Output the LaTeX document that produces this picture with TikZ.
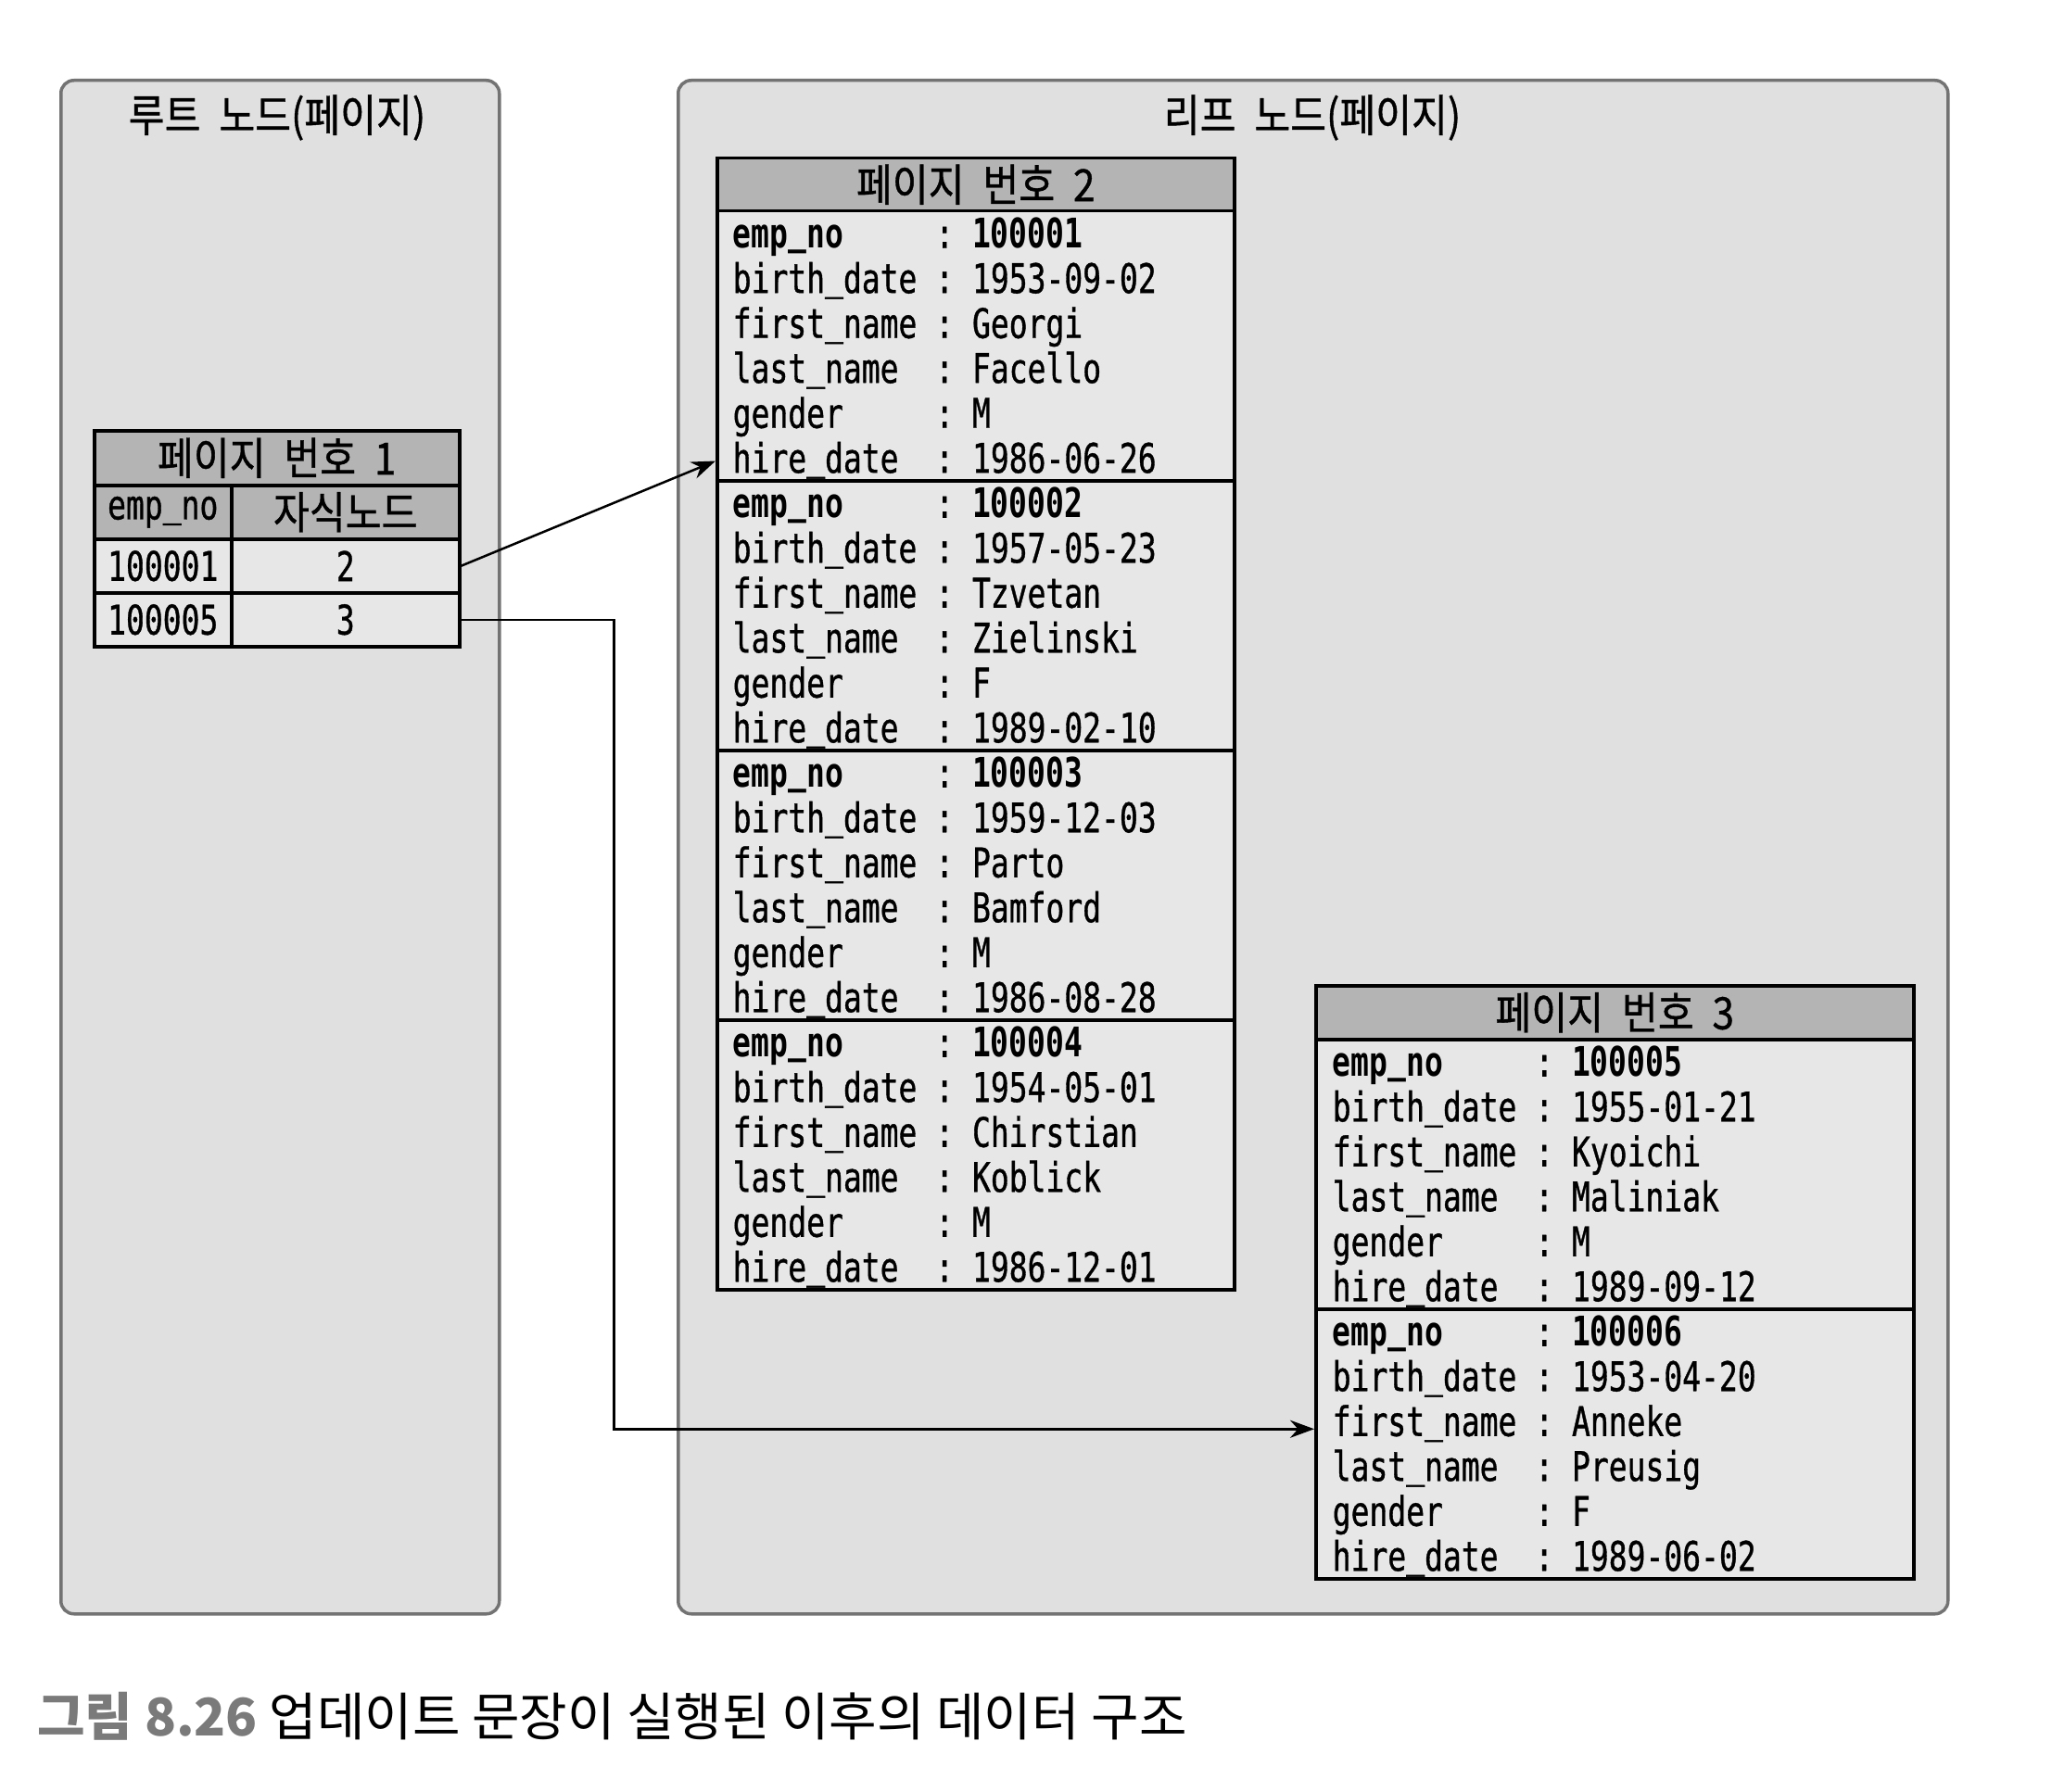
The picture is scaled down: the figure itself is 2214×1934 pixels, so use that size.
\documentclass[tikz,border=0pt]{standalone}
\usepackage{fontspec}
\usetikzlibrary{arrows.meta,calc}

% fonts: condensed monospace for the records, Korean sans for headings
\newfontfamily\mono[FakeStretch=0.75,UprightFeatures={FakeBold=0.8}]{DejaVu Sans Mono}
\newfontfamily\kr[FakeStretch=0.88,WordSpace=2.1,UprightFeatures={FakeBold=0.8}]{Noto Sans CJK KR}
\newfontfamily\krcap{Noto Sans CJK KR}

\definecolor{panelfill}{HTML}{E0E0E0}
\definecolor{panelline}{HTML}{737373}
\definecolor{headfill}{HTML}{B4B4B4}
\definecolor{cellfill}{HTML}{E7E7E7}
\definecolor{capgray}{HTML}{7A7A7A}

% record text: 6 lines of 48.5pt each
\newcommand\recfont{\mono\fontsize{44}{48.5}\selectfont
  \setbox\strutbox\hbox{\vrule height 40pt depth 8.5pt width 0pt}}
% one monospace cell of the character grid
\newlength\chw \setlength\chw{19.87pt}
\newcommand\fld[1]{\smash{#1}}
% underscore sitting a little closer to the baseline
\newcommand\us{\raisebox{4pt}{\_}}

% one employee record box
\newcommand\emprecord[9]{%
  \node[#1, anchor=north west] (#2) at (#3) {\recfont
    \begin{tabular}{@{}l@{\hspace{\chw}:\hspace{\chw}}l@{}}
      \fld{\bfseries emp\us no} & \fld{\bfseries #4}\\
      \fld{birth\us date} & \fld{#5}\\
      \fld{first\us name} & \fld{#6}\\
      \fld{last\us name} & \fld{#7}\\
      \fld{gender} & \fld{#8}\\
      \fld{hire\us date} & \fld{#9}
    \end{tabular}};}

\tikzset{
  panel/.style={draw=panelline, line width=3.5pt, fill=panelfill,
    rounded corners=14pt, anchor=north west, inner sep=0pt},
  paneltitle/.style={font=\kr\fontsize{48}{50}\selectfont, inner sep=0pt},
  headcell/.style={draw, line width=3.5pt, fill=headfill, anchor=north west,
    inner sep=0pt, font=\kr\fontsize{48}{50}\selectfont},
  datacell/.style={draw, line width=3.5pt, fill=cellfill, anchor=north west,
    inner sep=0pt, font=\mono\fontsize{44}{48}\selectfont},
  recA/.style={draw, line width=3.5pt, fill=cellfill, minimum width=558pt,
    minimum height=291pt, text width=524pt, inner xsep=17pt, inner ysep=0pt,
    align=left},
  recB/.style={recA, minimum width=645pt, text width=609pt, inner xsep=18pt},
  link/.style={-{Stealth[length=26pt,width=19pt]}, line width=2.5pt},
}

\begin{document}
\begin{tikzpicture}[x=1pt,y=-1pt]
\useasboundingbox (0,0) rectangle (2214,1934);
\fill[white] (0,0) rectangle (2214,1934);

% root and leaf page areas
\node[panel, minimum width=473pt, minimum height=1655pt] (rootpanel) at (64,85) {};
\node[panel, minimum width=1370pt, minimum height=1655pt] (leafpanel) at (730,85) {};
\node[paneltitle] (roottitle) at (299,127) {루트 노드(페이지)};
\node[paneltitle] (leaftitle) at (1416,127) {리프 노드(페이지)};

% page 1: root node
\node[headcell, minimum width=394pt, minimum height=59pt] (p1t) at (100,463) {페이지 번호 1};
\node[headcell, font=\mono\fontsize{44}{48}\selectfont, minimum width=148pt, minimum height=58pt] (p1h1) at (100,522) {emp\us no};
\node[headcell, minimum width=246pt, minimum height=58pt] (p1h2) at (248,522) {자식노드};
\node[datacell, minimum width=148pt, minimum height=58pt] (k1) at (100,580) {100001};
\node[datacell, minimum width=246pt, minimum height=58pt] (c1) at (248,580) {2};
\node[datacell, minimum width=148pt, minimum height=58pt] (k2) at (100,638) {100005};
\node[datacell, minimum width=246pt, minimum height=58pt] (c2) at (248,638) {3};

% page 2: leaf
\node[headcell, minimum width=558pt, minimum height=57pt] (p2t) at (772,169) {페이지 번호 2};
\emprecord{recA}{r21}{772,226}{100001}{1953-09-02}{Georgi}{Facello}{M}{1986-06-26}
\emprecord{recA}{r22}{772,517}{100002}{1957-05-23}{Tzvetan}{Zielinski}{F}{1989-02-10}
\emprecord{recA}{r23}{772,808}{100003}{1959-12-03}{Parto}{Bamford}{M}{1986-08-28}
\emprecord{recA}{r24}{772,1099}{100004}{1954-05-01}{Chirstian}{Koblick}{M}{1986-12-01}

% page 3: leaf
\node[headcell, minimum width=645pt, minimum height=58pt] (p3t) at (1418,1062) {페이지 번호 3};
\emprecord{recB}{r31}{1418,1120}{100005}{1955-01-21}{Kyoichi}{Maliniak}{M}{1989-09-12}
\emprecord{recB}{r32}{1418,1411}{100006}{1953-04-20}{Anneke}{Preusig}{F}{1989-06-02}

% child pointers
\draw[link] (c1.east) -- ([yshift=23pt]r21.south west);
\draw[link] (c2.east) -- ++(165pt,0) |- ([yshift=16pt]r32.west);

% caption
\node[anchor=west, inner sep=0pt, font=\krcap\fontsize{56}{60}\selectfont] (caption) at (40,1852)
  {{\color{capgray}\bfseries 그림 8.26} 업데이트 문장이 실행된 이후의 데이터 구조};
\end{tikzpicture}
\end{document}
